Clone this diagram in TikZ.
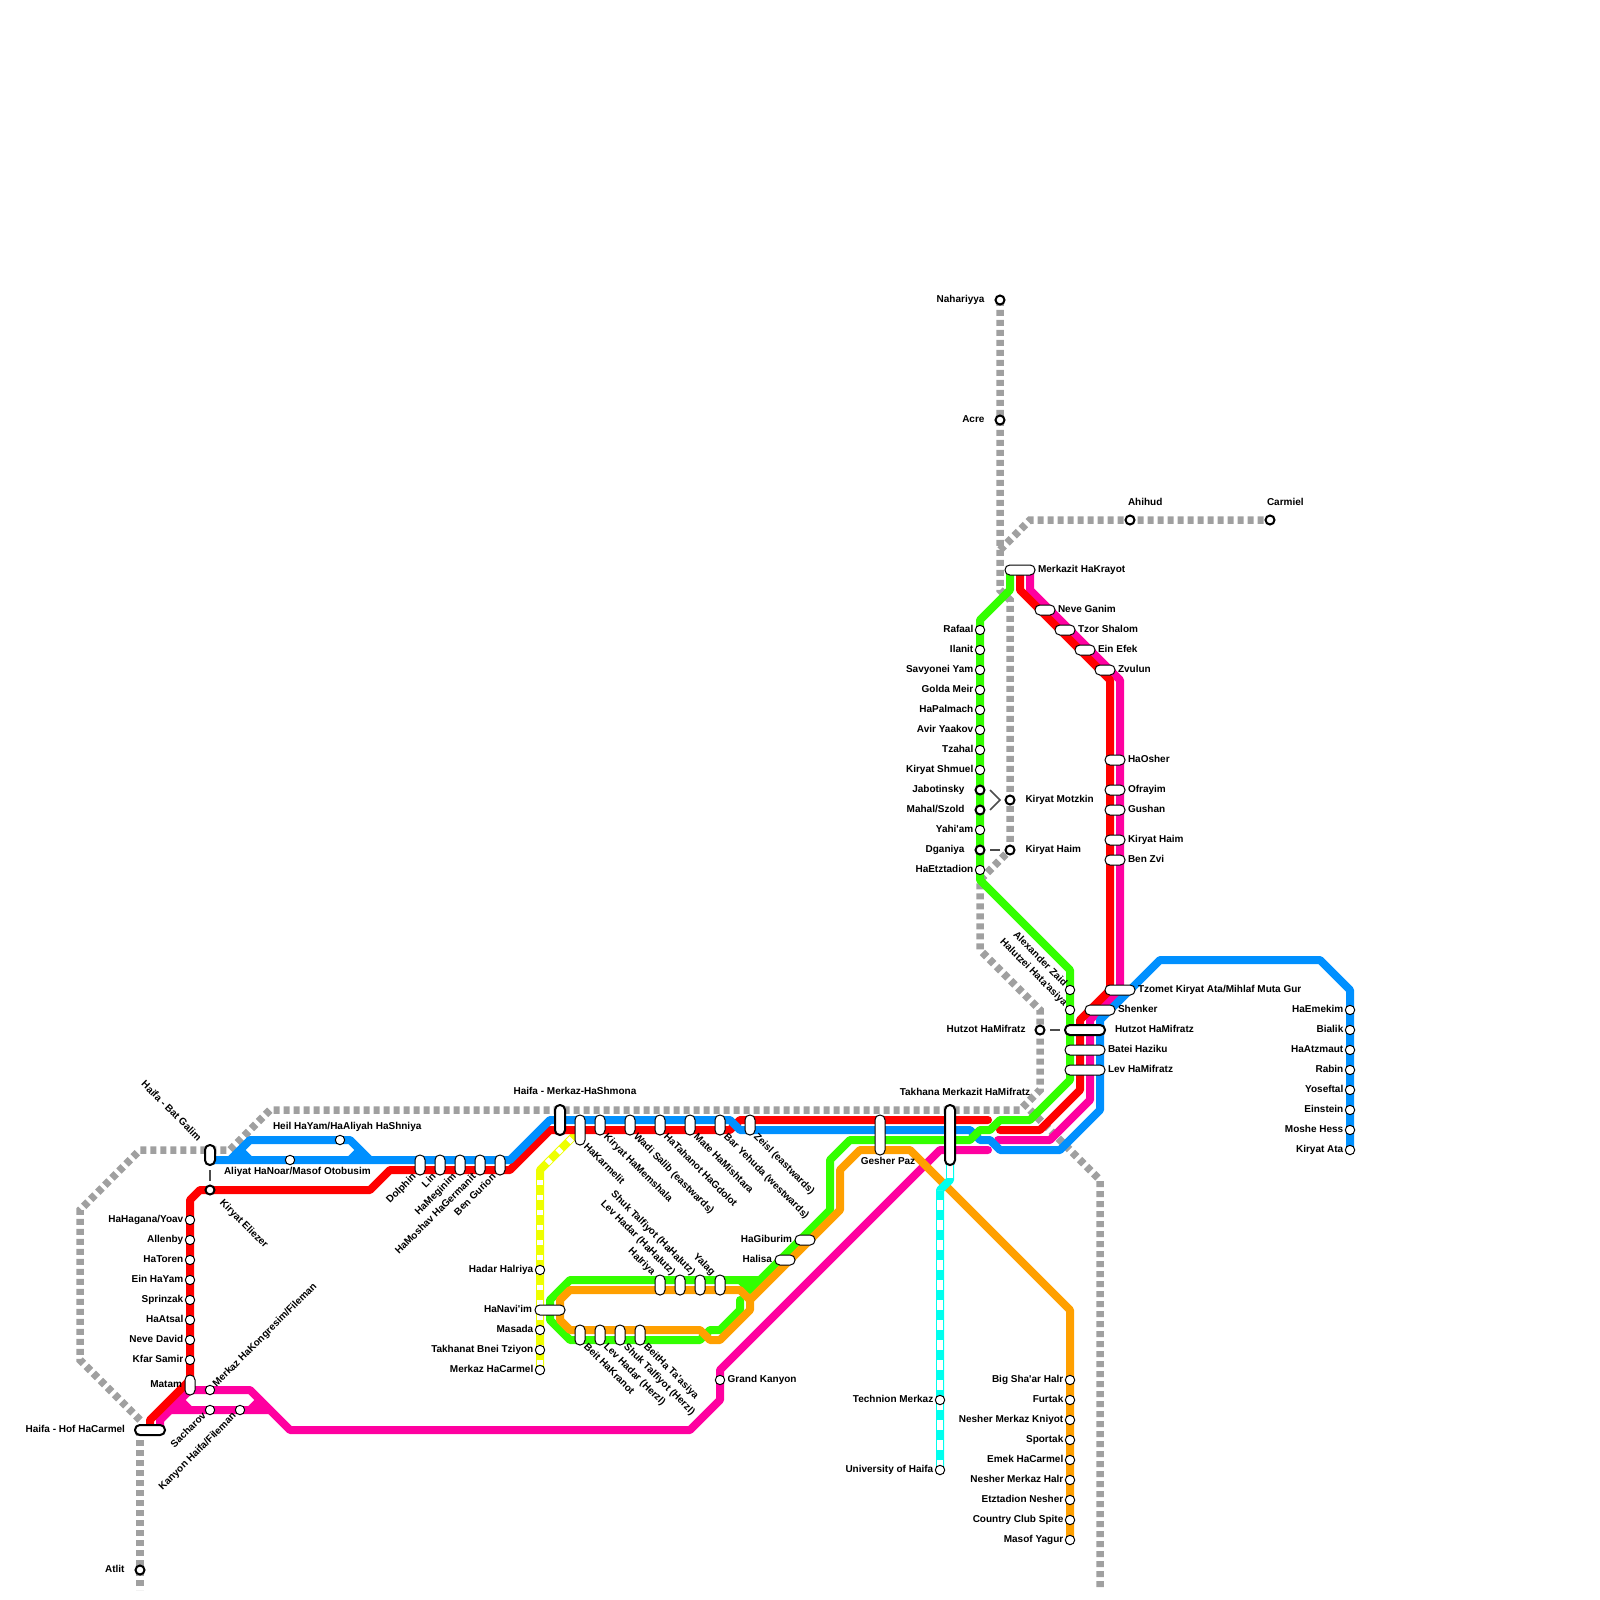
\documentclass[tikz,border=0pt]{standalone}
\usepackage{fontspec}
\newfontfamily\mapfont{Liberation Sans}
\usetikzlibrary{positioning}
\definecolor{lred}{HTML}{FF0000}
\definecolor{lblue}{HTML}{0090FF}
\definecolor{lgreen}{HTML}{33FF00}
\definecolor{lpink}{HTML}{FF00A0}
\definecolor{lorange}{HTML}{FFA000}
\definecolor{lyellow}{HTML}{EEFF00}
\definecolor{lcyan}{HTML}{00FFEE}
\definecolor{lgray}{HTML}{A0A0A0}
\tikzset{
  route/.style={line width=4pt,line join=round,line cap=round},
  rail/.style={line width=3.75pt,lgray,dash pattern=on 3pt off 2pt},
  tram/.style={line width=3pt,white,dash pattern=on 5pt off 5pt},
  tramy/.style={line width=3pt,white,dash pattern=on 2.5pt off 5pt},
  link/.style={line width=.75pt,black!70},
  stop/.style={draw,fill=white,circle,line width=.5pt,inner sep=0,outer sep=0,minimum size=4.7pt},
  bstop/.style={stop,line width=1pt,minimum size=4.5pt},
  pill/.style 2 args={draw,fill=white,line width=.5pt,rounded corners=2.4pt,inner sep=0,outer sep=0,minimum width=#1*.5pt,minimum height=#2*.5pt},
  bpill/.style 2 args={pill={#1}{#2},line width=1pt},
  lbl/.style={inner sep=0,outer sep=0,text height=3.6pt,text depth=0pt,yshift=.5pt,font=\mapfont\bfseries\fontsize{5}{6}\selectfont},
  dlab/.style={lbl,rotate=-45,anchor=west},
  ulab/.style={lbl,rotate=45,anchor=west},
  dend/.style={lbl,rotate=-45,anchor=east},
  uend/.style={lbl,rotate=45,anchor=east},
  node distance=1pt
}
\begin{document}
\begin{tikzpicture}[x=.5pt,y=-.5pt]
  \useasboundingbox (0,0) rectangle (1600,1600);
  \draw[rail] (140,1420) -- (80,1360) -- (80,1210) -- (140,1150) -- (230,1150) -- (270,1110) -- (1020,1110) -- (1040,1090) -- (1040,1010) -- (980,950) -- (980,880) -- (1010,850) -- (1010,600) -- (1000,590) -- (1000,300);
  \draw[rail] (1000,550) -- (1030,520) -- (1270,520);
  \draw[rail] (1030,1110) -- (1100,1180) -- (1100,1590);
  \draw[rail] (140,1430) -- (140,1590);
  \draw[route,lyellow] (540,1370) -- (540,1170) -- (573,1137);
  \draw[tramy] (540,1365) -- (540,1180);
  \draw[tramy] (547,1163) -- (573,1137);
  \draw[route,lpink] (160,1430) -- (160,1420) -- (190,1390) -- (250,1390) -- (290,1430) -- (690,1430) -- (720,1400) -- (720,1370) -- (940,1150) -- (988,1150);
  \draw[route,lpink] (160,1420) -- (170,1410) -- (270,1410);
  \draw[route,lpink] (180,1400) -- (190,1410);
  \draw[route,lpink] (260,1400) -- (250,1410);
  \draw[route,lpink] (998,1140) -- (1050,1140) -- (1090,1100) -- (1090,1020) -- (1120,990) -- (1120,680) -- (1030,590) -- (1030,570);
  \draw[route,lred] (150,1430) -- (150,1420) -- (190,1380) -- (190,1200) -- (200,1190) -- (370,1190) -- (390,1170) -- (510,1170) -- (550,1130) -- (730,1130) -- (740,1120) -- (988,1120);
  \draw[route,lred] (1000,1130) -- (1040,1130) -- (1080,1090) -- (1080,1020) -- (1110,990) -- (1110,680) -- (1020,590) -- (1020,570);
  \draw[route,lblue] (210,1160) -- (510,1160) -- (550,1120) -- (730,1120) -- (740,1130) -- (970,1130) -- (980,1140) -- (990,1140) -- (1000,1150) -- (1060,1150) -- (1100,1110) -- (1100,1020) -- (1160,960) -- (1320,960) -- (1350,990) -- (1350,1150);
  \draw[route,lblue] (230,1160) -- (250,1140) -- (350,1140) -- (370,1160);
  \draw[route,lblue] (240,1150) -- (250,1160);
  \draw[route,lblue] (360,1150) -- (350,1160);
  \draw[route,lgreen] (1010,570) -- (1010,590) -- (980,620) -- (980,880) -- (1070,970) -- (1070,1080) -- (1030,1120) -- (1000,1120) -- (990,1130) -- (980,1130) -- (970,1140) -- (850,1140) -- (830,1160) -- (830,1210) -- (760,1280) -- (570,1280) -- (550,1300) -- (550,1320) -- (570,1340) -- (700,1340) -- (710,1330) -- (720,1330) -- (740,1310) -- (740,1300);
  \draw[route,lgreen] (740,1280) -- (750,1290) -- (760,1280);
  \draw[route,lorange] (1070,1540) -- (1070,1310) -- (910,1150) -- (860,1150) -- (840,1170) -- (840,1210) -- (750,1300) -- (740,1290) -- (570,1290) -- (560,1300) -- (560,1320) -- (570,1330) -- (700,1330) -- (710,1340) -- (720,1340) -- (750,1310) -- (750,1300);
  \draw[route,lcyan] (940,1470) -- (940,1190) -- (950,1180) -- (950,1165);
  \draw[tram] (940,1470) -- (940,1190);
  \draw[tram,dash pattern=on 6.5pt off 1pt] (950,1165) -- (950,1178);
  \foreach \i/\lab in {0/{HaHagana/Yoav},1/Allenby,2/HaToren,3/Ein HaYam,4/Sprinzak,5/HaAtsal,6/Neve David,7/Kfar Samir} {
    \node[stop] (carmel\i) at (190,{1220+\i*20}) {};
    \node[lbl,left=of carmel\i] (carmelT\i) {\lab};
  }
  \node[pill={10}{20}] (matam) at (190,1385) {};
  \node[lbl,left=1.5pt of matam] (matamT) {Matam};
  \node[stop] (kongresim) at (210,1390) {};
  \node[ulab] (kongresimT) at (214,1386) {Merkaz HaKongresim/Fileman};
  \node[stop] (sacharov) at (210,1410) {};
  \node[uend] (sacharovT) at (204,1415) {Sacharov};
  \node[stop] (kanyon) at (240,1410) {};
  \node[uend] (kanyonT) at (234,1415) {Kanyon Haifa/Fileman};
  \node[bpill={30}{10}] (hof) at (150,1430) {};
  \node[lbl,left=5pt of hof] (hofT) {Haifa - Hof HaCarmel};
  \node[bstop] (atlit) at (140,1570) {};
  \node[lbl,left=5.5pt of atlit] (atlitT) {Atlit};
  \node[bpill={10}{20}] (batgalim) at (210,1155) {};
  \node[dend] (batgalimT) at (200,1140) {Haifa - Bat Galim};
  \node[bstop] (eliezer) at (210,1190) {};
  \node[dlab] (eliezerT) at (222,1202) {Kiryat Eliezer};
  \draw[link] ([yshift=-2.5pt]batgalim.south) -- ([yshift=2.5pt]eliezer.north);
  \node[stop] (heil) at (340,1140) {};
  \node[lbl,anchor=west] (heilT) at (273,1127) {Heil HaYam/HaAliyah HaShniya};
  \node[stop] (aliyat) at (290,1160) {};
  \node[lbl,anchor=west] (aliyatT) at (224,1172) {Aliyat HaNoar/Masof Otobusim};
  \foreach \i/\x/\lab in {0/420/Dolphin,1/440/Lin,2/460/HaMeginim,3/480/HaMoshav HaGermanit,4/500/Ben Gurion} {
    \node[pill={10}{20}] (hadar\i) at (\x,1165) {};
    \node[uend] (hadarT\i) at ([shift={(-.5pt,-.5pt)}]hadar\i.south west) {\lab};
  }
  \node[bpill={10}{30}] (merkaz) at (560,1120) {};
  \node[lbl] (merkazT) at (575,1092) {Haifa - Merkaz-HaShmona};
  \node[pill={10}{30}] (karmelit) at (580,1130) {};
  \node[dlab] (karmelitT) at ([shift={(.5pt,-.5pt)}]karmelit.south east) {HaKarmelit};
  \foreach \i/\x/\lab in {0/600/Kiryat HaMemshala,1/630/Wadi Salib (eastwards),2/660/HaTahanot HaGdolot,3/690/Mate HaMishtara,4/720/Bar Yehuda (westwards),5/750/Zeisl (eastwards)} {
    \node[pill={10}{20}] (port\i) at (\x,1125) {};
    \node[dlab] (portT\i) at ([shift={(.5pt,-.5pt)}]port\i.south east) {\lab};
  }
  \node[pill={10}{40}] (gesher) at (880,1135) {};
  \node[lbl] (gesherT) at (888,1162) {Gesher Paz};
  \node[bpill={10}{60}] (takhana) at (950,1135) {};
  \node[lbl] (takhanaT) at (965,1093) {Takhana Merkazit HaMifratz};
  \foreach \i/\x/\lab in {0/660/Halriya,1/680/Lev Hadar (HaHalutz),2/700/Shuk Talfiyot (HaHalutz),3/720/Yalag} {
    \node[pill={10}{20}] (upper\i) at (\x,1285) {};
    \node[dend] (upperT\i) at ([shift={(-.5pt,.5pt)}]upper\i.north west) {\lab};
  }
  \foreach \i/\x/\lab in {0/580/Beit HaKranot,1/600/Lev Hadar (Herzl),2/620/Shuk Talfiyot (Herzl),3/640/BeitHa Ta'asiya} {
    \node[pill={10}{20}] (lower\i) at (\x,1335) {};
    \node[dlab] (lowerT\i) at ([shift={(.5pt,-.5pt)}]lower\i.south east) {\lab};
  }
  \node[pill={30}{10}] (navim) at (550,1310) {};
  \node[lbl,left=1.5pt of navim] (navimT) {HaNavi'im};
  \foreach \y/\lab in {1270/Hadar Halriya,1330/Masada,1350/Takhanat Bnei Tziyon,1370/Merkaz HaCarmel} {
    \node[stop] (ramp\y) at (540,\y) {};
    \node[lbl,left=of ramp\y] (rampT\y) {\lab};
  }
  \node[stop] (grand) at (720,1380) {};
  \node[lbl,right=1.5pt of grand] (grandT) {Grand Kanyon};
  \node[pill={20}{10}] (giburim) at (805,1240) {};
  \node[lbl,left=1.5pt of giburim] (giburimT) {HaGiburim};
  \node[pill={20}{10}] (halisa) at (785,1260) {};
  \node[lbl,left=1.5pt of halisa] (halisaT) {Halisa};
  \foreach \y/\lab in {1400/Technion Merkaz,1470/University of Haifa} {
    \node[stop] (tech\y) at (940,\y) {};
    \node[lbl,left=of tech\y] (techT\y) {\lab};
  }
  \foreach \i/\lab in {0/Big Sha'ar Halr,1/Furtak,2/Nesher Merkaz Kniyot,3/Sportak,4/Emek HaCarmel,5/Nesher Merkaz Halr,6/Etztadion Nesher,7/Country Club Spite,8/Masof Yagur} {
    \node[stop] (nesher\i) at (1070,{1380+\i*20}) {};
    \node[lbl,left=of nesher\i] (nesherT\i) {\lab};
  }
  \foreach \i/\lab in {0/Rafaal,1/Ilanit,2/Savyonei Yam,3/Golda Meir,4/HaPalmach,5/Avir Yaakov,6/Tzahal,7/Kiryat Shmuel,10/Yahi'am,12/HaEtztadion} {
    \node[stop] (motz\i) at (980,{630+\i*20}) {};
    \node[lbl,left=of motz\i] (motzT\i) {\lab};
  }
  \foreach \i/\lab in {8/Jabotinsky,9/{Mahal/Szold},11/Dganiya} {
    \node[bstop] (motz\i) at (980,{630+\i*20}) {};
    \node[lbl,left=5.5pt of motz\i] (motzT\i) {\lab};
  }
  \node[bstop] (motzkin) at (1010,800) {};
  \node[lbl,right=5.5pt of motzkin] (motzkinT) {Kiryat Motzkin};
  \node[bstop] (haim) at (1010,850) {};
  \node[lbl,right=5.5pt of haim] (haimT) {Kiryat Haim};
  \draw[link] ([xshift=5pt]motz8.center) -- ([xshift=-5pt]motzkin.center) -- ([xshift=5pt]motz9.center);
  \draw[link] ([xshift=5pt]motz11.center) -- ([xshift=-5pt]haim.center);
  \node[bstop] (nahariyya) at (1000,300) {};
  \node[lbl,left=5.5pt of nahariyya] (nahariyyaT) {Nahariyya};
  \node[bstop] (acre) at (1000,420) {};
  \node[lbl,left=5.5pt of acre] (acreT) {Acre};
  \node[bstop] (ahihud) at (1130,520) {};
  \node[lbl,anchor=west] (ahihudT) at (1128,503) {Ahihud};
  \node[bstop] (carmiel) at (1270,520) {};
  \node[lbl,anchor=west] (carmielT) at (1267,503) {Carmiel};
  \node[pill={30}{10}] (krayot) at (1020,570) {};
  \node[lbl,right=1.5pt of krayot] (krayotT) {Merkazit HaKrayot};
  \foreach \i/\lab in {0/Neve Ganim,1/Tzor Shalom,2/Ein Efek,3/Zvulun} {
    \node[pill={20}{10}] (zvul\i) at ({1045+\i*20},{610+\i*20}) {};
    \node[lbl,right=1.5pt of zvul\i] (zvulT\i) {\lab};
  }
  \foreach \y/\lab in {760/HaOsher,790/Ofrayim,810/Gushan,840/Kiryat Haim,860/Ben Zvi} {
    \node[pill={20}{10}] (osher\y) at (1115,\y) {};
    \node[lbl,right=1.5pt of osher\y] (osherT\y) {\lab};
  }
  \node[pill={30}{10}] (tzomet) at (1120,990) {};
  \node[lbl,right=1.5pt of tzomet] (tzometT) {Tzomet Kiryat Ata/Mihlaf Muta Gur};
  \node[pill={30}{10}] (shenker) at (1100,1010) {};
  \node[lbl,right=1.5pt of shenker] (shenkerT) {Shenker};
  \node[bpill={40}{10}] (hutzot) at (1085,1030) {};
  \node[lbl,right=5pt of hutzot] (hutzotT) {Hutzot HaMifratz};
  \node[pill={40}{10}] (batei) at (1085,1050) {};
  \node[lbl,right=1.5pt of batei] (bateiT) {Batei Haziku};
  \node[pill={40}{10}] (levm) at (1085,1070) {};
  \node[lbl,right=1.5pt of levm] (levmT) {Lev HaMifratz};
  \node[bstop] (hutzotw) at (1040,1030) {};
  \node[lbl,left=5pt of hutzotw] (hutzotwT) {Hutzot HaMifratz};
  \draw[link] ([xshift=5pt]hutzotw.center) -- ([xshift=-2.5pt]hutzot.west);
  \node[stop] (zaid) at (1070,990) {};
  \node[dend] (zaidT) at (1066,985) {Alexander Zaid};
  \node[stop] (halutzei) at (1070,1010) {};
  \node[dend] (halutzeiT) at (1066,1005) {Halutzei Hata'asiya};
  \foreach \i/\lab in {0/HaEmekim,1/Bialik,2/HaAtzmaut,3/Rabin,4/Yoseftal,5/Einstein,6/Moshe Hess,7/Kiryat Ata} {
    \node[stop] (ata\i) at (1350,{1010+\i*20}) {};
    \node[lbl,left=of ata\i] (ataT\i) {\lab};
  }
\end{tikzpicture}
\end{document}
